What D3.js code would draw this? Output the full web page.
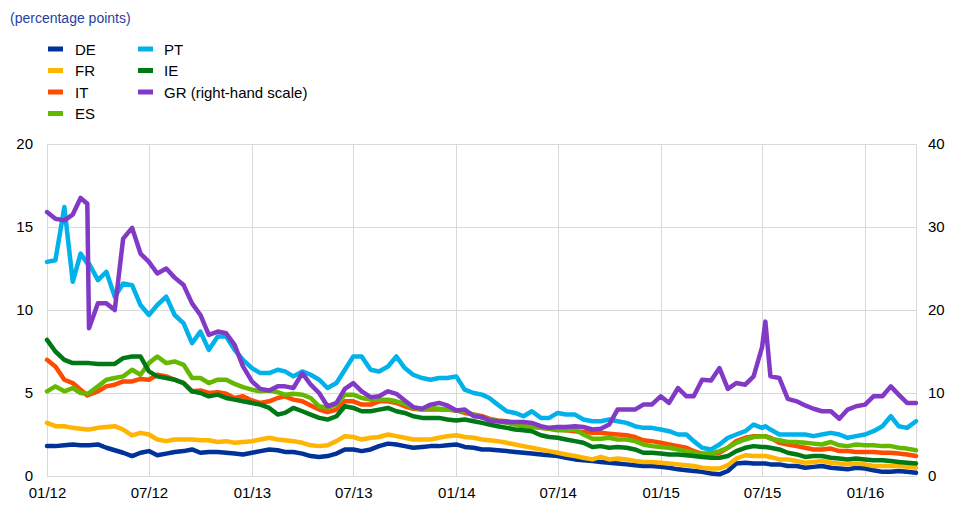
<!DOCTYPE html>
<html>
<head>
<meta charset="utf-8">
<script src="https://cdn.jsdelivr.net/npm/d3@7"></script>
<style>
  body { margin: 0; background: #fff; }
  svg { display: block; font-family: "Liberation Sans", Arial, sans-serif; }
</style>
</head>
<body>
<svg id="chart" width="966" height="522"></svg>
<script>
// half-monthly readings, plus two extra dates for the sharp GR moves
var dates = [
  "2012-01-01","2012-01-16","2012-02-01","2012-02-16","2012-03-01","2012-03-13","2012-03-16","2012-04-01","2012-04-16","2012-05-01","2012-05-16","2012-06-01","2012-06-16",
  "2012-07-01","2012-07-16","2012-08-01","2012-08-16","2012-09-01","2012-09-16","2012-10-01","2012-10-16","2012-11-01","2012-11-16","2012-12-01","2012-12-16",
  "2013-01-01","2013-01-16","2013-02-01","2013-02-16","2013-03-01","2013-03-16","2013-04-01","2013-04-16","2013-05-01","2013-05-16","2013-06-01","2013-06-16",
  "2013-07-01","2013-07-16","2013-08-01","2013-08-16","2013-09-01","2013-09-16","2013-10-01","2013-10-16","2013-11-01","2013-11-16","2013-12-01","2013-12-16",
  "2014-01-01","2014-01-16","2014-02-01","2014-02-16","2014-03-01","2014-03-16","2014-04-01","2014-04-16","2014-05-01","2014-05-16","2014-06-01","2014-06-16",
  "2014-07-01","2014-07-16","2014-08-01","2014-08-16","2014-09-01","2014-09-16","2014-10-01","2014-10-16","2014-11-01","2014-11-16","2014-12-01","2014-12-16",
  "2015-01-01","2015-01-16","2015-02-01","2015-02-16","2015-03-01","2015-03-16","2015-04-01","2015-04-16","2015-05-01","2015-05-16","2015-06-01","2015-06-16",
  "2015-07-01","2015-07-07","2015-07-16","2015-08-01","2015-08-16","2015-09-01","2015-09-16","2015-10-01","2015-10-16","2015-11-01","2015-11-16","2015-12-01","2015-12-16",
  "2016-01-01","2016-01-16","2016-02-01","2016-02-16","2016-03-01","2016-03-16","2016-04-01"
];

var de = [
  1.8,1.8,1.85,1.9,1.85,1.85,1.85,1.9,1.7,1.55,1.4,1.2,1.4,
  1.5,1.25,1.35,1.45,1.5,1.6,1.4,1.45,1.45,1.4,1.35,1.3,
  1.4,1.5,1.6,1.55,1.45,1.45,1.35,1.2,1.15,1.2,1.35,1.6,
  1.6,1.5,1.6,1.8,1.95,1.9,1.8,1.7,1.75,1.8,1.8,1.85,
  1.9,1.75,1.7,1.6,1.6,1.55,1.5,1.45,1.4,1.35,1.3,1.25,
  1.2,1.1,1.0,0.95,0.9,0.85,0.8,0.75,0.7,0.65,0.6,0.6,
  0.55,0.5,0.4,0.35,0.3,0.25,0.15,0.1,0.3,0.75,0.8,0.75,
  0.75,0.75,0.7,0.7,0.6,0.6,0.5,0.55,0.6,0.5,0.45,0.4,0.5,
  0.45,0.35,0.25,0.25,0.3,0.25,0.2
];
var fr = [
  3.2,3.0,3.0,2.9,2.85,2.8,2.8,2.9,2.95,3.0,2.8,2.45,2.6,
  2.5,2.2,2.1,2.2,2.2,2.2,2.15,2.15,2.05,2.1,2.0,2.05,
  2.1,2.2,2.3,2.2,2.15,2.1,2.0,1.85,1.8,1.85,2.1,2.4,
  2.35,2.2,2.3,2.35,2.5,2.4,2.3,2.2,2.2,2.2,2.3,2.4,
  2.45,2.35,2.3,2.2,2.15,2.1,2.0,1.9,1.8,1.7,1.6,1.5,
  1.4,1.3,1.2,1.1,1.0,1.15,1.0,1.05,1.0,0.9,0.85,0.85,
  0.8,0.75,0.7,0.65,0.6,0.5,0.45,0.45,0.65,1.05,1.25,1.2,
  1.2,1.2,1.15,1.0,1.0,0.9,0.8,0.85,0.9,0.8,0.75,0.7,0.75,
  0.7,0.6,0.6,0.6,0.6,0.55,0.5
];
var it = [
  7.0,6.6,5.8,5.6,5.2,4.85,4.9,5.1,5.4,5.5,5.7,5.7,5.85,
  5.8,6.1,6.0,5.8,5.6,5.1,5.15,5.0,5.05,4.95,4.7,4.8,
  4.55,4.4,4.5,4.7,4.8,4.6,4.5,4.25,4.0,3.85,4.0,4.5,
  4.5,4.3,4.3,4.5,4.5,4.4,4.2,4.05,4.0,4.0,4.0,4.0,
  3.95,3.8,3.7,3.6,3.45,3.35,3.3,3.2,3.1,3.0,2.9,2.85,
  2.8,2.75,2.7,2.65,2.6,2.6,2.55,2.5,2.45,2.35,2.15,2.1,
  2.0,1.9,1.8,1.7,1.5,1.35,1.35,1.4,1.7,2.1,2.3,2.4,
  2.4,2.4,2.3,2.0,1.9,1.8,1.7,1.6,1.6,1.65,1.5,1.5,1.45,
  1.45,1.45,1.4,1.4,1.35,1.3,1.2
];
var es = [
  5.1,5.4,5.1,5.3,5.0,4.95,5.0,5.4,5.8,5.9,6.0,6.4,6.1,
  6.8,7.2,6.8,6.9,6.7,5.9,5.9,5.6,5.8,5.8,5.55,5.35,
  5.2,5.1,5.15,5.05,4.9,4.95,4.9,4.7,4.2,4.1,4.3,4.9,
  4.9,4.7,4.6,4.6,4.6,4.5,4.35,4.1,4.0,4.1,4.05,4.0,
  3.95,3.9,3.7,3.5,3.4,3.3,3.2,3.1,3.0,2.95,2.9,2.85,
  2.75,2.75,2.8,2.5,2.25,2.25,2.3,2.2,2.2,2.1,1.9,1.8,
  1.75,1.7,1.6,1.5,1.4,1.3,1.35,1.5,1.7,2.0,2.2,2.35,
  2.4,2.4,2.25,2.15,2.05,2.05,2.0,1.95,1.9,2.05,1.85,1.8,1.9,
  1.85,1.85,1.8,1.8,1.7,1.65,1.55
];
var pt = [
  12.9,13.0,16.2,11.7,13.4,12.8,12.8,11.8,12.3,10.8,11.6,11.5,10.3,
  9.7,10.3,10.8,9.7,9.2,8.0,8.7,7.6,8.4,8.4,7.6,7.0,
  6.5,6.2,6.2,6.4,6.3,6.0,6.3,6.1,5.8,5.3,5.6,6.4,
  7.2,7.2,6.4,6.3,6.6,7.2,6.5,6.1,5.9,5.8,5.9,5.9,
  6.0,5.2,5.0,4.9,4.7,4.3,3.9,3.8,3.6,3.9,3.5,3.5,
  3.8,3.7,3.7,3.4,3.3,3.3,3.4,3.3,3.2,3.0,2.9,2.9,
  2.8,2.7,2.5,2.5,2.1,1.7,1.6,1.9,2.3,2.5,2.7,3.1,
  2.9,3.0,2.8,2.5,2.5,2.5,2.5,2.4,2.5,2.6,2.5,2.3,2.4,
  2.5,2.7,3.0,3.6,3.0,2.9,3.3
];
var ie = [
  8.2,7.5,7.0,6.8,6.8,6.8,6.8,6.75,6.75,6.75,7.1,7.2,7.2,
  6.3,6.0,5.9,5.8,5.6,5.1,5.0,4.8,4.9,4.7,4.6,4.5,
  4.4,4.3,4.1,3.7,3.8,4.1,3.9,3.7,3.5,3.4,3.6,4.2,
  4.1,3.9,3.9,4.0,4.1,3.9,3.8,3.6,3.5,3.5,3.5,3.4,
  3.35,3.4,3.3,3.2,3.1,3.0,2.9,2.8,2.75,2.7,2.45,2.35,
  2.3,2.2,2.1,2.0,1.75,1.8,1.7,1.75,1.7,1.6,1.4,1.4,
  1.35,1.3,1.3,1.25,1.2,1.15,1.1,1.1,1.2,1.5,1.7,1.8,
  1.75,1.75,1.7,1.6,1.4,1.3,1.15,1.2,1.2,1.1,1.05,1.0,1.05,
  1.0,0.95,0.95,0.9,0.85,0.8,0.75
];
// GR on the right-hand scale (0-40)
var gr = [
  31.8,31.0,30.8,31.5,33.5,32.8,17.8,20.8,20.8,20.0,28.6,29.9,26.8,
  25.8,24.4,25.0,23.9,23.0,20.8,19.4,17.0,17.4,17.2,15.8,13.2,
  11.4,10.5,10.3,10.8,10.8,10.6,12.4,11.0,10.0,8.4,8.8,10.5,
  11.2,10.2,9.5,9.6,10.2,9.9,9.1,8.3,8.1,8.6,8.8,8.5,
  7.9,8.0,7.2,7.1,6.7,6.6,6.5,6.5,6.5,6.4,6.0,5.8,
  5.9,5.9,6.0,5.9,5.6,5.7,6.2,8.0,8.0,8.0,8.6,8.6,
  9.6,8.8,10.6,9.6,9.6,11.6,11.5,13.0,10.5,11.2,11.0,12.0,
  15.5,18.6,12.0,11.8,9.3,9.0,8.5,8.1,7.8,7.8,6.9,8.0,8.4,
  8.6,9.6,9.6,10.8,9.8,8.8,8.8
];

var seriesNames = ["DE", "FR", "IT", "ES", "PT", "IE", "GR"];
var legendLabels = ["DE", "FR", "IT", "ES", "PT", "IE", "GR (right-hand scale)"];
var seriesColors = ["#003299", "#ffb400", "#ff4b00", "#65b800", "#00b1ea", "#007816", "#8139c6"];
var leftTicks = [0, 5, 10, 15, 20];
var rightTicks = [0, 10, 20, 30, 40];
var xTicks = ["2012-01-01","2012-07-01","2013-01-01","2013-07-01","2014-01-01","2014-07-01","2015-01-01","2015-07-01","2016-01-01"];

var svg = d3.select("#chart");
var margin = {left: 47, right: 50, top: 144, bottom: 46};
var width = 966, height = 522;
var parse = d3.timeParse("%Y-%m-%d");
var xDates = dates.map(parse);

var x = d3.scaleTime()
  .domain([parse("2012-01-01"), parse("2016-04-01")])
  .range([margin.left, width - margin.right]);
var yL = d3.scaleLinear().domain([0, 20]).range([height - margin.bottom, margin.top]);
var yR = d3.scaleLinear().domain([0, 40]).range([height - margin.bottom, margin.top]);

// grid
var grid = svg.append("g").attr("stroke", "#d9d9d9").attr("stroke-width", 1);
grid.selectAll("line.h").data(leftTicks).enter().append("line")
  .attr("x1", margin.left).attr("x2", width - margin.right)
  .attr("y1", function(d) { return Math.round(yL(d)) + 0.5; })
  .attr("y2", function(d) { return Math.round(yL(d)) + 0.5; });
grid.selectAll("line.v").data(xTicks.map(parse).concat([parse("2016-04-01")])).enter().append("line")
  .attr("x1", function(d) { return Math.round(x(d)) + 0.5; })
  .attr("x2", function(d) { return Math.round(x(d)) + 0.5; })
  .attr("y1", margin.top).attr("y2", height - margin.bottom);

// axes
var axisL = d3.axisLeft(yL).tickValues(leftTicks).tickSize(0).tickPadding(14);
var axisR = d3.axisRight(yR).tickValues(rightTicks).tickSize(0).tickPadding(12);
var axisB = d3.axisBottom(x).tickValues(xTicks.map(parse)).tickSize(0).tickPadding(11)
  .tickFormat(d3.timeFormat("%m/%y"));

function styleAxis(g) {
  g.select(".domain").remove();
  g.selectAll("text").attr("fill", "#000").style("font-size", "15px")
    .style("font-family", "'Liberation Sans', Arial, sans-serif");
}
svg.append("g").attr("transform", "translate(" + margin.left + ",0)").call(axisL).call(styleAxis);
svg.append("g").attr("transform", "translate(" + (width - margin.right) + ",0)").call(axisR).call(styleAxis);
svg.append("g").attr("transform", "translate(0," + (height - margin.bottom) + ")").call(axisB).call(styleAxis);

// lines
var seriesData = [de, fr, it, es, pt, ie, gr];
seriesData.forEach(function(vals, i) {
  var yy = seriesNames[i] === "GR" ? yR : yL;
  var line = d3.line()
    .x(function(d, j) { return x(xDates[j]); })
    .y(function(d) { return yy(d); });
  svg.append("path")
    .datum(vals)
    .attr("fill", "none")
    .attr("stroke", seriesColors[i])
    .attr("stroke-width", 4.5)
    .attr("stroke-linejoin", "round")
    .attr("stroke-linecap", "round")
    .attr("d", line);
});

// title + legend
svg.append("text").attr("x", 10).attr("y", 23)
  .attr("fill", "#1f3f9f").style("font-size", "14px")
  .text("(percentage points)");

var legend = svg.append("g");
var items = legend.selectAll("g").data(legendLabels).enter().append("g")
  .attr("transform", function(d, i) {
    var col = i < 4 ? 0 : 1;
    var row = i < 4 ? i : i - 4;
    return "translate(" + (48 + col * 90) + "," + (49 + row * 21.5) + ")";
  });
items.append("rect").attr("x", 0).attr("y", -2.5).attr("width", 15).attr("height", 5)
  .attr("fill", function(d, i) { return seriesColors[i]; });
items.append("text").attr("x", function(d, i) { return i < 4 ? 27 : 26; }).attr("y", 5.5)
  .style("font-size", "15px").attr("fill", "#000")
  .text(function(d) { return d; });
</script>
</body>
</html>
